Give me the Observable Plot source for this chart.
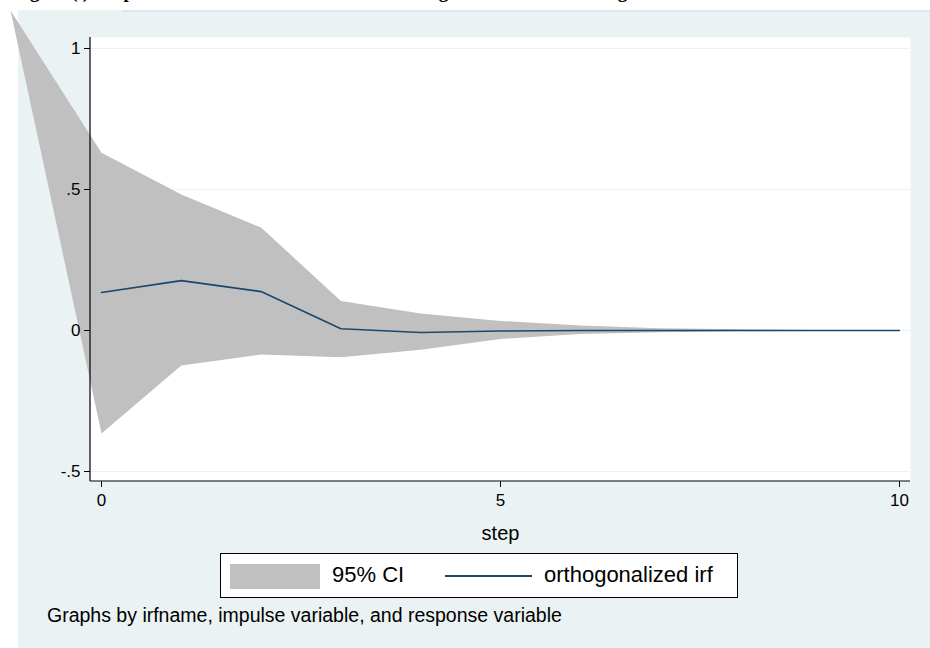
<!DOCTYPE html>
<html>
<head>
<meta charset="utf-8">
<script src="https://cdn.jsdelivr.net/npm/d3@7"></script>
<script src="https://cdn.jsdelivr.net/npm/@observablehq/plot@0.6"></script>
<style>
  html, body { margin: 0; padding: 0; }
  body { width: 930px; height: 648px; position: relative; overflow: hidden; background: #ffffff; font-family: "Liberation Sans", Arial, sans-serif; }
  #title { position: absolute; left: 13px; top: -18.5px; font: bold 19px "Liberation Serif", "Times New Roman", serif; line-height: 20px; white-space: nowrap; color: #000; }
  #bg { position: absolute; left: 18px; top: 10px; width: 912px; height: 638px; background: #eaf2f3; }
  #bgline { position: absolute; left: 122px; top: 10px; width: 808px; height: 2px; background: #dde7eb; }
  #chart { position: absolute; left: 0; top: 0; }
  #legend { position: absolute; left: 220px; top: 553px; width: 516px; height: 43px; border: 1px solid #000; background: #fff; font-size: 22px; color: #000; }
  #legend .sw { position: absolute; left: 9px; top: 10px; width: 90px; height: 25px; background: #c0c0c0; }
  #legend .t1 { position: absolute; left: 111px; top: 8px; line-height: 26px; }
  #legend .ln { position: absolute; left: 224px; top: 21px; width: 87px; height: 2px; background: #1a476f; }
  #legend .t2 { position: absolute; left: 323px; top: 8px; line-height: 26px; }
  #caption { position: absolute; left: 47px; top: 603px; font-size: 19.5px; line-height: 24px; color: #000; white-space: nowrap; }
</style>
</head>
<body>
<div id="title">Figure (i): Impulse Shock of Interest Rate on Lending to the Manufacturing Sector</div>
<div id="bg"></div>
<div id="bgline"></div>
<div id="chart"></div>
<div id="legend">
  <div class="sw"></div><div class="t1">95% CI</div>
  <div class="ln"></div><div class="t2">orthogonalized irf</div>
</div>
<div id="caption">Graphs by irfname, impulse variable, and response variable</div>
<script>
// ---- data ----
const steps   = [0, 1, 2, 3, 4, 5, 6, 7, 8, 9, 10];
const irf     = [0.135, 0.177, 0.138, 0.006, -0.007, -0.002, 0.0, 0.0, 0.0, 0.0, 0.0];
const ciUpper = [0.63, 0.482, 0.365, 0.105, 0.06, 0.034, 0.018, 0.008, 0.004, 0.002, 0.001];
const ciLower = [-0.365, -0.124, -0.085, -0.095, -0.068, -0.03, -0.012, -0.006, -0.003, -0.002, -0.001];
// stray vertex of the CI polygon that runs off the top-left of the image
const ciApexStep = [-1.14];
const ciApexValue = [1.135];

const yTicks = [-0.5, 0, 0.5, 1];
const yTickLabels = ["-.5", "0", ".5", "1"];
const xTicks = [0, 5, 10];
const xTickLabels = ["0", "5", "10"];
const xTitle = "step";

// ---- build tables ----
const line = steps.map((s, i) => ({step: s, value: irf[i]}));
const poly = [
  ...ciApexStep.map((s, i) => ({step: s, value: ciApexValue[i]})),
  ...steps.map((s, i) => ({step: s, value: ciUpper[i]})),
  ...steps.map((s, i) => ({step: s, value: ciLower[i]})).reverse()
];

const axisLines = (index, scales, values, dimensions) => {
  const {width, height, marginLeft, marginRight, marginTop, marginBottom} = dimensions;
  const g = d3.create("svg:g").attr("stroke", "#000").attr("stroke-width", 1.2).attr("fill", "none");
  g.append("path").attr("d", `M${marginLeft},${marginTop}V${height - marginBottom}`);
  g.append("path").attr("d", `M${marginLeft},${height - marginBottom}H${width - marginRight}`);
  return g.node();
};

const chart = Plot.plot({
  width: 930,
  height: 648,
  marginLeft: 90,
  marginRight: 20,
  marginTop: 37,
  marginBottom: 167,
  style: {fontFamily: "'Liberation Sans', Arial, sans-serif", fontSize: "17px", background: "transparent", color: "#000", overflow: "visible"},
  x: {domain: [0, 10], inset: 11},
  y: {domain: [-0.5, 1], insetTop: 11, insetBottom: 10},
  marks: [
    Plot.frame({fill: "#ffffff", stroke: "none"}),
    Plot.gridY(yTicks, {stroke: "#eaf2f3", strokeOpacity: 1, strokeWidth: 1.2}),
    Plot.line(poly, {x: "step", y: "value", fill: "#c0c0c0", stroke: "none", curve: "linear-closed"}),
    Plot.line(line, {x: "step", y: "value", stroke: "#1a476f", strokeWidth: 1.6}),
    axisLines,
    Plot.axisY({ticks: yTicks, tickFormat: (d) => yTickLabels[yTicks.indexOf(d)], tickSize: 6, tickPadding: 4, label: null, fontSize: 17}),
    Plot.axisX({ticks: xTicks, tickFormat: (d) => xTickLabels[xTicks.indexOf(d)], tickSize: 6, tickPadding: 6, fontSize: 17, label: null}),
    Plot.axisX({ticks: [], label: xTitle, labelAnchor: "center", labelArrow: "none", labelOffset: 58, fontSize: 20})
  ]
});
document.getElementById("chart").appendChild(chart);
</script>
</body>
</html>
